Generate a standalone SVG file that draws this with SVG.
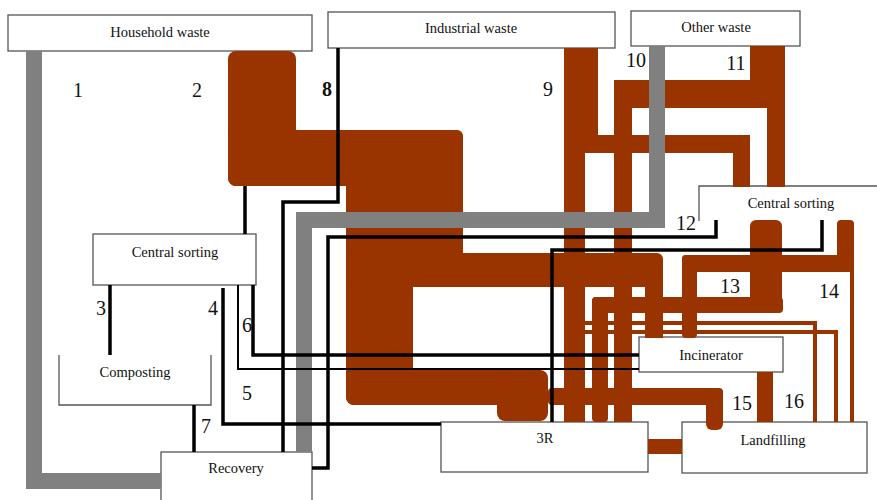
<svg xmlns="http://www.w3.org/2000/svg" width="877" height="500" viewBox="0 0 877 500">
<style>
.box{fill:#fff;stroke:#555;stroke-width:1.3}
.edge{fill:none;stroke:#555;stroke-width:1.3}
text{font-family:'Liberation Serif','DejaVu Serif',serif;fill:#111;text-anchor:middle}
.lbl{font-size:14.5px}
.num{font-size:20px}
.br{fill:#993300}
.brl{fill:none;stroke:#993300;stroke-width:4}
.gr{fill:none;stroke:#808080;stroke-width:16;stroke-linejoin:miter}
.bk{fill:none;stroke:#000;stroke-width:3.5}
.bk2{fill:none;stroke:#000;stroke-width:2}
</style>
<rect width="877" height="500" fill="#fff"/>
<g id="household"><rect class="box" x="8" y="15" width="304" height="36"/><text class="lbl" x="160" y="37" font-family="Liberation Serif, serif">Household waste</text></g>
<g id="industrial"><rect class="box" x="328" y="12" width="287" height="36"/><text class="lbl" x="471" y="33" font-family="Liberation Serif, serif">Industrial waste</text></g>
<g id="other"><rect class="box" x="631" y="11" width="169" height="35"/><text class="lbl" x="716" y="32" font-family="Liberation Serif, serif">Other waste</text></g>
<g id="sorting-left"><rect class="box" x="93" y="234" width="163" height="51"/><text class="lbl" x="175" y="257" font-family="Liberation Serif, serif">Central sorting</text></g>
<g id="sorting-right"><rect x="699" y="186" width="180" height="34" fill="#fff"/><path class="edge" d="M699,221V186H877"/><text class="lbl" x="791" y="208" font-family="Liberation Serif, serif">Central sorting</text></g>
<g id="composting"><rect x="59" y="355" width="152" height="50" fill="#fff"/><path class="edge" d="M59,355V405H211V355"/><text class="lbl" x="135" y="377" font-family="Liberation Serif, serif">Composting</text></g>
<g id="recovery"><rect class="box" x="161" y="452" width="151" height="60"/><text class="lbl" x="236" y="473" font-family="Liberation Serif, serif">Recovery</text></g>
<g id="r3"><rect class="box" x="441" y="422" width="207" height="50"/><text class="lbl" x="545" y="443" font-family="Liberation Serif, serif">3R</text></g>
<g id="incinerator"><rect class="box" x="639" y="337" width="144" height="35"/><text class="lbl" x="711" y="360" font-family="Liberation Serif, serif">Incinerator</text></g>
<g id="landfilling"><rect class="box" x="682" y="422" width="185" height="51"/><text class="lbl" x="773" y="445" font-family="Liberation Serif, serif">Landfilling</text></g>
<g id="connectors">
<rect class="br" x="228" y="51" width="68" height="135" rx="8"/>
<rect class="br" x="228" y="130" width="235" height="56" rx="8"/>
<rect class="br" x="346" y="130" width="117" height="157" rx="6"/>
<rect class="br" x="346" y="140" width="67" height="265" rx="8"/>
<rect class="br" x="346" y="253" width="317" height="34" rx="6"/>
<rect class="br" x="346" y="370" width="202" height="35" rx="8"/>
<rect class="br" x="497" y="380" width="51" height="41" rx="8"/>
<rect class="br" x="645" y="260" width="18" height="78"/>
<rect class="br" x="564" y="48" width="34" height="105"/>
<rect class="br" x="564" y="48" width="21" height="374"/>
<rect class="br" x="585" y="135" width="165" height="18"/>
<rect class="br" x="733" y="135" width="17" height="52"/>
<rect class="br" x="750" y="46" width="35" height="62"/>
<rect class="br" x="614" y="80" width="171" height="28" rx="4"/>
<rect class="br" x="614" y="80" width="18" height="342"/>
<rect class="br" x="767" y="100" width="18" height="87"/>
<rect class="br" x="750" y="220" width="32" height="93" rx="6"/>
<rect class="br" x="837" y="220" width="17" height="52" rx="4"/>
<rect class="br" x="682" y="255" width="172" height="17" rx="4"/>
<rect class="br" x="682" y="255" width="15" height="83" rx="4"/>
<rect class="br" x="592" y="297" width="191" height="16" rx="4"/>
<rect class="br" x="592" y="297" width="16" height="125" rx="4"/>
<path class="brl" d="M585,323H815V422"/>
<path class="brl" d="M585,332H836V422"/>
<path class="brl" d="M852,268V422"/>
<rect class="br" x="548" y="388" width="175" height="17" rx="4"/>
<rect class="br" x="706" y="388" width="17" height="42" rx="6"/>
<rect class="br" x="757" y="372" width="16" height="50"/>
<rect class="br" x="648" y="439" width="34" height="15"/>
<path class="gr" d="M34,51V481H161"/>
<path class="gr" d="M657,46V220H304V452"/>
<path class="bk" d="M245,186V234"/>
<path class="bk" d="M338,48V202H283V452"/>
<path class="bk" d="M110,285V355"/>
<path class="bk" d="M223,288V424H441"/>
<path class="bk2" d="M238,285V369H639"/>
<path class="bk" d="M253,285V355H639"/>
<path class="bk" d="M194,405V452"/>
<path class="bk" d="M716,220V237H328V468H312"/>
<path class="bk" d="M822,220V250H552V422"/>
</g>
<g id="labels">
<text class="num" x="78" y="97" font-family="Liberation Serif, serif">1</text>
<text class="num" x="197" y="97" font-family="Liberation Serif, serif">2</text>
<text class="num" x="327" y="96" font-weight="bold" font-family="Liberation Serif, serif">8</text>
<text class="num" x="548" y="96" font-family="Liberation Serif, serif">9</text>
<text class="num" x="636" y="67" font-family="Liberation Serif, serif">10</text>
<text class="num" x="736" y="70" font-family="Liberation Serif, serif">11</text>
<text class="num" x="686" y="230" font-family="Liberation Serif, serif">12</text>
<text class="num" x="730" y="293" font-family="Liberation Serif, serif">13</text>
<text class="num" x="829" y="298" font-family="Liberation Serif, serif">14</text>
<text class="num" x="742" y="410" font-family="Liberation Serif, serif">15</text>
<text class="num" x="794" y="408" font-family="Liberation Serif, serif">16</text>
<text class="num" x="101" y="315" font-family="Liberation Serif, serif">3</text>
<text class="num" x="213" y="315" font-family="Liberation Serif, serif">4</text>
<text class="num" x="247" y="332" font-family="Liberation Serif, serif">6</text>
<text class="num" x="247" y="400" font-family="Liberation Serif, serif">5</text>
<text class="num" x="206" y="433" font-family="Liberation Serif, serif">7</text>
</g>
</svg>
